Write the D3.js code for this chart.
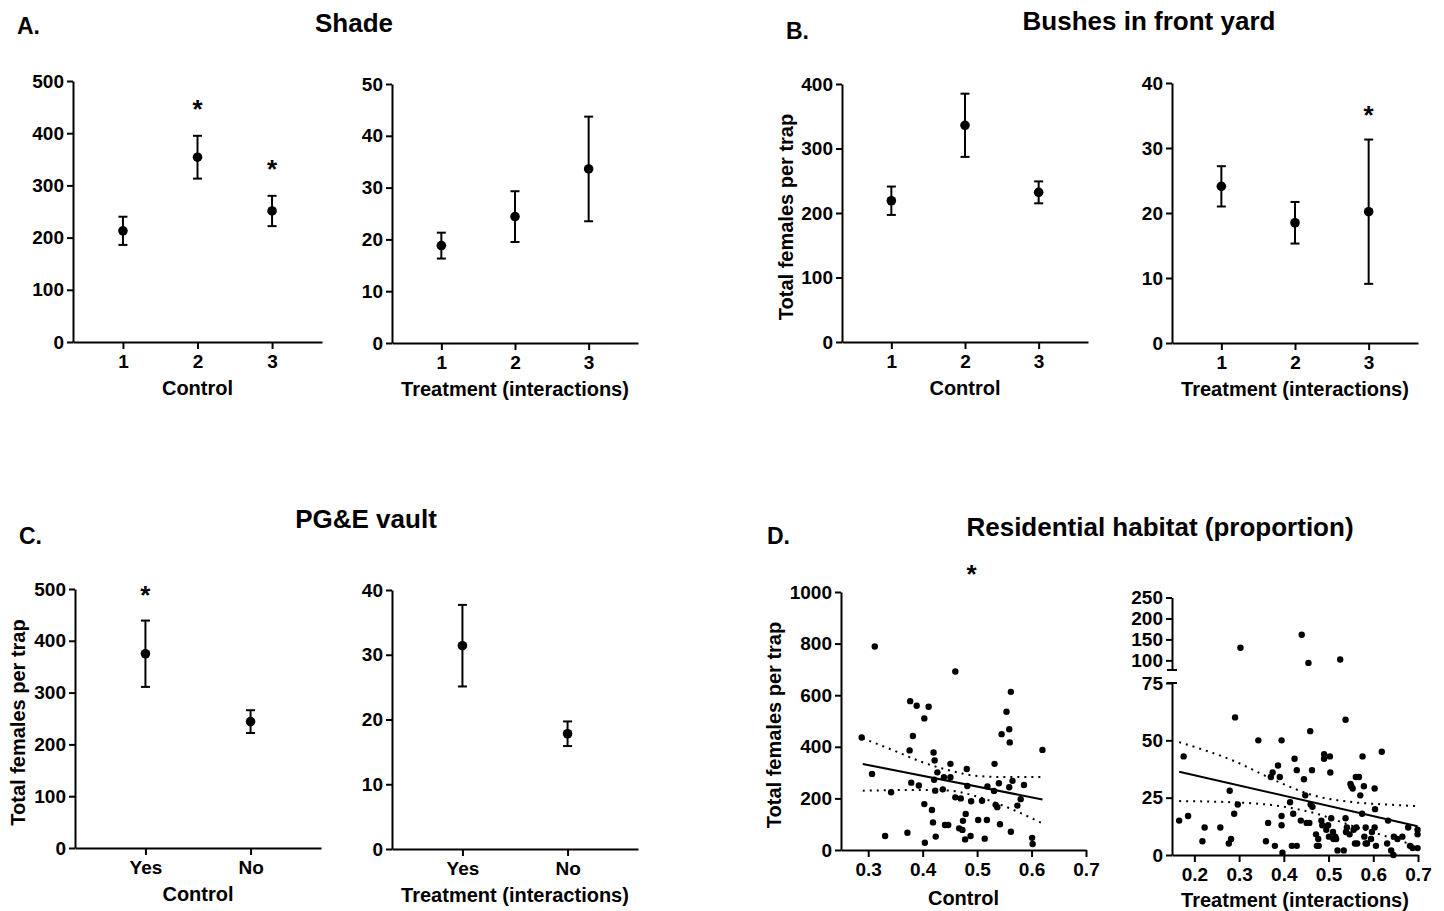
<!DOCTYPE html>
<html lang="en">
<head>
<meta charset="UTF-8">
<title>Female mosquitoes per trap</title>
<style>
  body { margin: 0; background: #fff; }
  svg text { font-family: "Liberation Sans", Arial, sans-serif; font-weight: bold; fill: #000; }
</style>
</head>
<body>
<svg id="fig" width="1444" height="911"></svg>
<script src="https://d3js.org/d3.v7.min.js"></script>
<script>
// ---- data ----
const shadeGroups = ["1", "2", "3"];
const shadeControlMean = [213, 354, 251];
const shadeControlErr = [27, 41, 29];
const shadeControlStars = ["2", "3"];
const shadeControlStarY = [458, 343];
const shadeTreatMean = [18.8, 24.4, 33.6];
const shadeTreatErr = [2.5, 4.9, 10.1];

const bushGroups = ["1", "2", "3"];
const bushControlMean = [219, 336, 232];
const bushControlErr = [22, 49, 17];
const bushTreatMean = [24.1, 18.5, 20.2];
const bushTreatErr = [3.1, 3.2, 11.1];
const bushTreatStars = ["3"];
const bushTreatStarY = [36];

const vaultGroups = ["Yes", "No"];
const vaultControlMean = [375, 244];
const vaultControlErr = [64, 22];
const vaultControlStars = ["Yes"];
const vaultControlStarY = [500];
const vaultTreatMean = [31.4, 17.8];
const vaultTreatErr = [6.3, 1.9];

const residControlX = [0.288,0.307,0.312,0.331,0.342,0.372,0.376,0.377,0.379,0.382,0.389,0.393,0.403,0.404,0.403,0.411,0.417,0.420,0.419,0.421,0.422,0.423,0.424,0.427,0.437,0.439,0.441,0.447,0.451,0.451,0.460,0.460,0.467,0.470,0.473,0.474,0.478,0.479,0.481,0.482,0.488,0.489,0.502,0.509,0.514,0.518,0.519,0.532,0.531,0.534,0.537,0.542,0.540,0.545,0.554,0.559,0.559,0.560,0.562,0.562,0.565,0.574,0.580,0.586,0.601,0.602,0.620];
const residControlY = [436,295,789,54,224,67,386,577,261,442,559,250,178,28,510,555,155,378,107,272,347,230,52,301,235,282,97,97,334,282,204,692,84,200,78,113,41,140,314,248,54,189,116,191,44,116,246,334,229,175,166,100,259,449,536,243,468,417,613,71,268,172,197,252,47,23,388];
const residControlFitX = [0.29, 0.62];
const residControlFitY = [333, 196];
const residControlBandX = [0.29, 0.35, 0.40, 0.45, 0.50, 0.55, 0.62];
const residControlUpper = [433, 383, 340, 308, 287, 283, 283];
const residControlLower = [230, 232, 233, 230, 207, 170, 103];
const residControlStarX = [0.49];
const residControlStarY = [1093];

const residTreatX = [0.303,0.440,0.455,0.526,
  0.166,0.176,0.186,0.218,0.223,0.258,0.279,0.277,0.282,0.289,0.291,0.297,0.343,0.360,0.365,0.371,0.375,0.380,0.387,0.391,
  0.395,0.395,0.395,0.397,0.414,0.418,0.421,0.424,0.429,0.429,0.438,0.445,0.448,0.451,0.457,0.459,0.460,0.463,0.464,0.472,
  0.474,0.478,0.477,0.484,0.486,0.490,0.490,0.495,0.499,0.501,0.503,0.504,0.506,0.510,0.511,0.515,0.517,0.520,0.534,0.538,
  0.538,0.539,0.541,0.547,0.549,0.551,0.554,0.556,0.559,0.561,0.562,0.564,0.568,0.571,0.575,0.576,0.579,0.580,0.583,0.583,
  0.586,0.595,0.597,0.603,0.603,0.604,0.606,0.619,0.633,0.631,0.640,0.645,0.646,0.654,0.665,0.678,0.682,0.688,0.699,0.699,0.699];
const residTreatY = [130,161,94,102,
  15,43,17,6,12,12,28,5,7,18,60,22,50,6,14,34,36,4,39,34,
  50,17,13,1,23,4,18,42,4,37,15,33,26,14,14,54,22,37,21,9,
  4,4,7,15,13,44,42,11,13,8,43,36,16,10,7,8,7,2,2,59,
  16,10,12,9,31,30,29,11,5,34,12,5,34,26,18,43,30,8,12,5,
  5,7,10,29,12,20,4,45,15,5,2,0,8,7,8,12,4,3,11,9,3];
const residTreatFitX = [0.166, 0.699];
const residTreatFitY = [36.3, 12.5];
const residTreatBandX = [0.166, 0.286, 0.391, 0.466, 0.556, 0.631, 0.699];
const residTreatUpper = [49.2, 41.2, 31.6, 26.0, 23.0, 22.0, 21.3];
const residTreatLower = [23.5, 23.0, 21.3, 18.4, 12.5, 8.0, 3.7];

// ---- drawing ----
const svg = d3.select("#fig");
const TICK_FS = 19, TITLE_FS = 20;

function styleAxis(g) {
    g.attr("font-size", null).attr("font-family", null);
    g.select(".domain").attr("stroke-width", 2);
    g.selectAll(".tick line").attr("stroke-width", 2);
    g.selectAll(".tick text").style("font-size", TICK_FS + "px");
}

function leftAxis(g, y, x0, ticks, fmt) {
    const ax = d3.axisLeft(y).tickValues(ticks).tickSize(6).tickPadding(3).tickSizeOuter(0)
        .tickFormat(fmt || d3.format("d"));
    g.append("g").attr("transform", `translate(${x0},0)`).call(ax).call(styleAxis);
}

function bottomAxis(g, x, y0, ticks, fmt) {
    const ax = d3.axisBottom(x).tickValues(ticks).tickSize(7).tickPadding(6).tickSizeOuter(0);
    if (fmt) ax.tickFormat(fmt);
    g.append("g").attr("transform", `translate(0,${y0})`).call(ax).call(styleAxis);
}

function axisTitles(g, p) {
    g.append("text").attr("x", (p.x0 + p.x1) / 2).attr("y", p.yBot + (p.xTitleGap || 53))
        .attr("text-anchor", "middle").style("font-size", TITLE_FS + "px").text(p.xTitle);
    if (p.yTitle) {
        g.append("text")
            .attr("transform", `translate(${p.x0 - p.yTitleGap},${(p.yTop + p.yBot) / 2 + 4}) rotate(-90)`)
            .attr("text-anchor", "middle").style("font-size", TITLE_FS + "px").text(p.yTitle);
    }
}

function stars(g, xs, ys) {
    g.selectAll("text.star").data(xs).enter().append("text").attr("class", "star")
        .attr("x", d => d.x).attr("y", (d, i) => ys[i] + 15)
        .attr("text-anchor", "middle").style("font-size", "26px").text("*");
}

function catPanel(p) {
    const n = p.groups.length, pad = 0.67;
    const x = d3.scaleLinear().domain([1 - pad, n + pad]).range([p.x0, p.x1]);
    const y = d3.scaleLinear().domain([0, p.yMax]).range([p.yBot, p.yTop]);
    const g = svg.append("g");
    leftAxis(g, y, p.x0, d3.range(0, p.yMax + 1, p.yStep));
    bottomAxis(g, x, p.yBot, d3.range(1, n + 1), i => p.groups[i - 1]);

    const rows = p.groups.map((k, i) => ({ k: k, i: i + 1, m: p.mean[i], e: p.err[i] }));
    const bars = g.append("g").attr("stroke", "#000").attr("stroke-width", 2);
    rows.forEach(d => {
        bars.append("line").attr("x1", x(d.i)).attr("x2", x(d.i)).attr("y1", y(d.m - d.e)).attr("y2", y(d.m + d.e));
        [d.m - d.e, d.m + d.e].forEach(v => {
            bars.append("line").attr("x1", x(d.i) - 4.5).attr("x2", x(d.i) + 4.5).attr("y1", y(v)).attr("y2", y(v));
        });
    });
    g.selectAll("circle").data(rows).enter().append("circle")
        .attr("cx", d => x(d.i)).attr("cy", d => y(d.m)).attr("r", 4.8).attr("fill", "#000");

    if (p.stars) {
        stars(g, p.stars.map(k => ({ x: x(p.groups.indexOf(k) + 1) })), p.starY.map(v => y(v)));
    }
    axisTitles(g, p);
}

function bands(g, x, y, bx, up, lo, fx, fy) {
    const line = d3.line().x(d => x(d[0])).y(d => y(d[1])).curve(d3.curveMonotoneX);
    [up, lo].forEach(arr => {
        g.append("path").datum(bx.map((v, i) => [v, arr[i]])).attr("d", line)
            .attr("fill", "none").attr("stroke", "#000").attr("stroke-width", 2)
            .attr("stroke-dasharray", "2,5");
    });
    g.append("path").datum(fx.map((v, i) => [v, fy[i]])).attr("d", d3.line().x(d => x(d[0])).y(d => y(d[1])))
        .attr("fill", "none").attr("stroke", "#000").attr("stroke-width", 2);
}

// A. Shade
catPanel({ x0: 73, x1: 322, yTop: 81, yBot: 342, groups: shadeGroups, mean: shadeControlMean, err: shadeControlErr,
    yMax: 500, yStep: 100, xTitle: "Control", stars: shadeControlStars, starY: shadeControlStarY });
catPanel({ x0: 392, x1: 638, yTop: 84, yBot: 343, groups: shadeGroups, mean: shadeTreatMean, err: shadeTreatErr,
    yMax: 50, yStep: 10, xTitle: "Treatment (interactions)" });

// B. Bushes in front yard
catPanel({ x0: 842, x1: 1088, yTop: 84, yBot: 342, groups: bushGroups, mean: bushControlMean, err: bushControlErr,
    yMax: 400, yStep: 100, xTitle: "Control", yTitle: "Total females per trap", yTitleGap: 49 });
catPanel({ x0: 1172, x1: 1418, yTop: 83, yBot: 343, groups: bushGroups, mean: bushTreatMean, err: bushTreatErr,
    yMax: 40, yStep: 10, xTitle: "Treatment (interactions)", stars: bushTreatStars, starY: bushTreatStarY });

// C. PG&E vault
catPanel({ x0: 75, x1: 321, yTop: 589, yBot: 848, groups: vaultGroups, mean: vaultControlMean, err: vaultControlErr,
    yMax: 500, yStep: 100, xTitle: "Control", yTitle: "Total females per trap", yTitleGap: 50,
    stars: vaultControlStars, starY: vaultControlStarY });
catPanel({ x0: 392, x1: 638, yTop: 590, yBot: 849, groups: vaultGroups, mean: vaultTreatMean, err: vaultTreatErr,
    yMax: 40, yStep: 10, xTitle: "Treatment (interactions)" });

// D. Residential habitat, control
(function () {
    const p = { x0: 841, x1: 1086, yTop: 592, yBot: 850, xTitle: "Control", xTitleGap: 55,
        yTitle: "Total females per trap", yTitleGap: 60 };
    const x = d3.scaleLinear().domain([0.25, 0.7]).range([p.x0, p.x1]);
    const y = d3.scaleLinear().domain([0, 1000]).range([p.yBot, p.yTop]);
    const g = svg.append("g");
    leftAxis(g, y, p.x0, d3.range(0, 1001, 200));
    bottomAxis(g, x, p.yBot, [0.3, 0.4, 0.5, 0.6, 0.7], d3.format(".1f"));
    g.selectAll("circle").data(residControlX).enter().append("circle")
        .attr("cx", d => x(d)).attr("cy", (d, i) => y(residControlY[i])).attr("r", 3.2).attr("fill", "#000");
    bands(g, x, y, residControlBandX, residControlUpper, residControlLower, residControlFitX, residControlFitY);
    stars(g, residControlStarX.map(v => ({ x: x(v) })), residControlStarY.map(v => y(v)));
    axisTitles(g, p);
})();

// D. Residential habitat, treatment (broken y axis)
(function () {
    const p = { x0: 1172, x1: 1418, yTop: 683, yBot: 855, xTitle: "Treatment (interactions)", xTitleGap: 52 };
    const x = d3.scaleLinear().domain([0.15, 0.7]).range([p.x0, p.x1]);
    const yLow = d3.scaleLinear().domain([0, 75]).range([855, 683]);
    const yUp = d3.scaleLinear().domain([77, 250]).range([670, 597.5]);
    const y = v => v > 75 ? yUp(v) : yLow(v);
    const g = svg.append("g");
    leftAxis(g, yLow, p.x0, [0, 25, 50, 75]);
    leftAxis(g, yUp, p.x0, [100, 150, 200, 250]);
    // break caps
    [yUp(77), yLow(75)].forEach(v => {
        g.append("line").attr("x1", p.x0 - 5).attr("x2", p.x0 + 5).attr("y1", v).attr("y2", v)
            .attr("stroke", "#000").attr("stroke-width", 2);
    });
    bottomAxis(g, x, 855, [0.2, 0.3, 0.4, 0.5, 0.6, 0.7], d3.format(".1f"));
    g.selectAll("circle").data(residTreatX).enter().append("circle")
        .attr("cx", d => x(d)).attr("cy", (d, i) => y(residTreatY[i])).attr("r", 3.2).attr("fill", "#000");
    bands(g, x, yLow, residTreatBandX, residTreatUpper, residTreatLower, residTreatFitX, residTreatFitY);
    axisTitles(g, p);
})();

// panel letters and titles
const headings = [
    { t: "A.", x: 17, y: 34, a: "start", fs: 23 },
    { t: "Shade", x: 354, y: 32, a: "middle", fs: 26 },
    { t: "B.", x: 786, y: 39, a: "start", fs: 23 },
    { t: "Bushes in front yard", x: 1149, y: 30, a: "middle", fs: 26 },
    { t: "C.", x: 19, y: 544, a: "start", fs: 23 },
    { t: "PG&E vault", x: 366, y: 528, a: "middle", fs: 26 },
    { t: "D.", x: 767, y: 544, a: "start", fs: 23 },
    { t: "Residential habitat (proportion)", x: 1160, y: 536, a: "middle", fs: 26 }
];
svg.selectAll("text.heading").data(headings).enter().append("text").attr("class", "heading")
    .attr("x", d => d.x).attr("y", d => d.y).attr("text-anchor", d => d.a)
    .style("font-size", d => d.fs + "px").text(d => d.t);
</script>
</body>
</html>
